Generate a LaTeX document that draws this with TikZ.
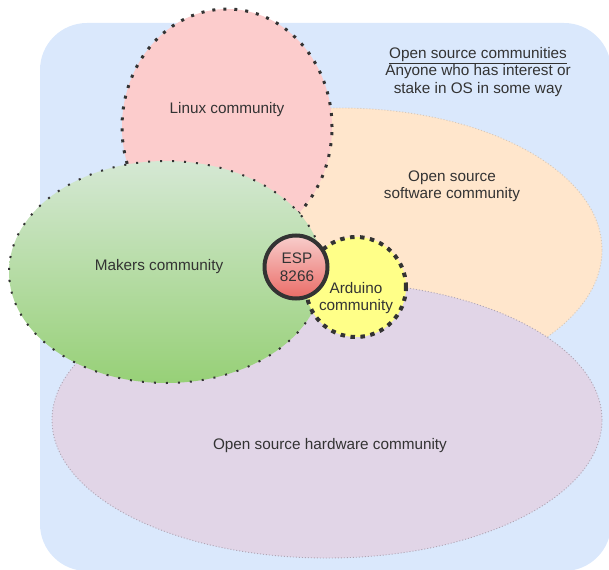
\documentclass[tikz,border=0pt]{standalone}
\usepackage{fontspec}
\setmainfont{Liberation Sans}
\usetikzlibrary{shapes.geometric}
\definecolor{bgblue}{HTML}{DAE8FC}
\definecolor{linuxpink}{RGB}{252,204,204}
\definecolor{peach}{HTML}{FFE6CC}
\definecolor{lav}{HTML}{E1D5E7}
\definecolor{greentop}{HTML}{D5E8D4}
\definecolor{greenbot}{HTML}{97D077}
\definecolor{ardyellow}{HTML}{FFFF88}
\definecolor{esptop}{HTML}{F8CECC}
\definecolor{espbot}{HTML}{EA6B66}
\definecolor{txt}{HTML}{333333}
\definecolor{faintpeach}{RGB}{215,200,185}
\definecolor{faintlav}{RGB}{175,165,180}
\begin{document}
\begin{tikzpicture}[x=1pt,y=-1pt,
  blob/.style={ellipse, inner sep=0pt, outer sep=0pt},
  lbl/.style={text=txt, font=\fontsize{15.3}{17.5}\selectfont, align=center, inner sep=0pt},
  faint/.style={line width=0.9pt, dash pattern=on 1pt off 2pt},
  linuxborder/.style={draw=txt, line width=3pt, dash pattern=on 3pt off 8pt},
  makersborder/.style={draw=txt, line width=2pt, dash pattern=on 2pt off 10pt},
  ardborder/.style={draw=txt, line width=4pt, dash pattern=on 4.5pt off 5.5pt},
]
\useasboundingbox (0,0) rectangle (609,569);
% background
\node[fill=bgblue, rounded corners=47pt, minimum width=571pt, minimum height=548pt, inner sep=0pt] (bg) at (325.5,297) {};
% software community
\node[blob, fill=peach, draw=faintpeach, faint, minimum width=524pt, minimum height=284pt] (soft) at (340,250) {};
% linux
\node[blob, fill=linuxpink, linuxborder, minimum width=210pt, minimum height=236pt] (linux) at (227,127) {};
% hardware
\node[blob, fill=lav, draw=faintlav, faint, minimum width=550pt, minimum height=276pt] (hard) at (327,420) {};
% makers
\node[blob, top color=greentop, bottom color=greenbot, makersborder, minimum width=314pt, minimum height=222pt] (makers) at (166,272) {};
% arduino
\node[circle, inner sep=0pt, fill=ardyellow, ardborder, minimum size=100pt] (ard) at (356,287) {};
% esp
\node[circle, inner sep=0pt, top color=esptop, bottom color=espbot, draw=txt, line width=4pt, minimum size=63pt] (esp) at (296,267) {};
% labels
\node[lbl] (tlinux) at (227,110) {Linux community};
\node[lbl] (tsoft) at (452,186) {Open source\\software community};
\node[lbl] (tmakers) at (159,267) {Makers community};
\node[lbl] (tard) at (356,298) {Arduino\\community};
\node[lbl] (tesp) at (297,267) {ESP\\8266};
\node[lbl] (thard) at (330,446) {Open source hardware community};
\node[lbl] (tall) at (478,72) {\underline{Open source communities}\\Anyone who has interest or\\stake in OS in some way};
\end{tikzpicture}
\end{document}
